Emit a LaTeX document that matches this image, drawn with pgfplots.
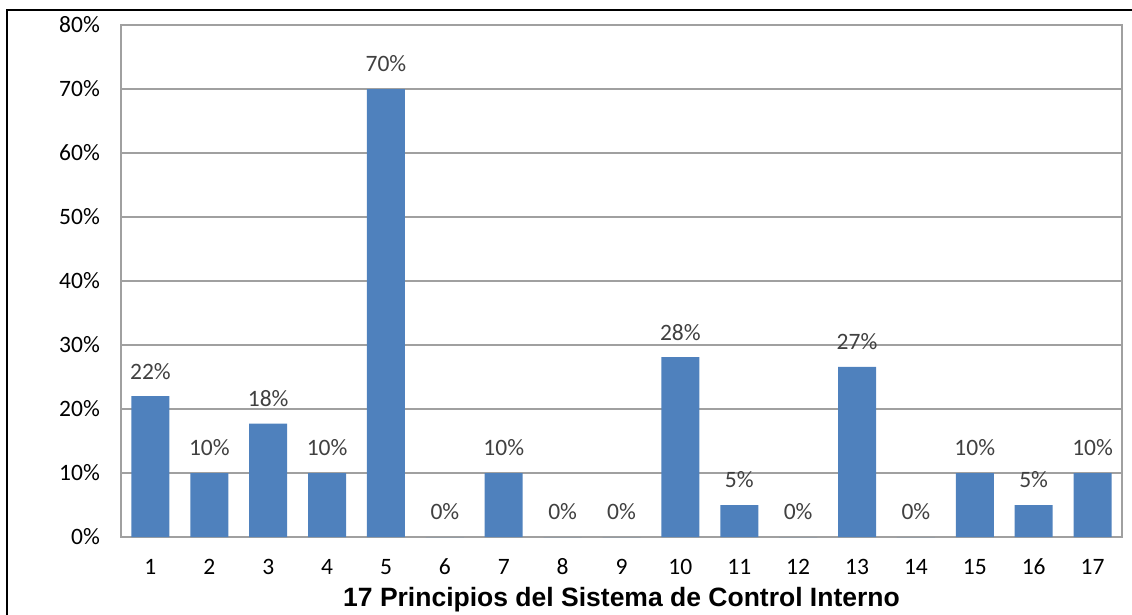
\documentclass[border=0pt]{standalone}
\usepackage{pgfplots}
\pgfplotsset{compat=1.18}
\usepackage{fontspec}
\setmainfont{Carlito}
\newfontfamily\arialfont{Liberation Sans}
\definecolor{barblue}{HTML}{4F81BD}
\definecolor{gridgray}{HTML}{A0A0A0}
\definecolor{labgray}{HTML}{404040}
\begin{document}
\begin{tikzpicture}[x=1pt,y=1pt]
\useasboundingbox (0,0) rectangle (1132,-615);
\begin{axis}[
  at={(121pt,-537pt)}, anchor=south west,
  width=1001pt, height=512pt, scale only axis,
  ybar, bar width=38pt,
  xmin=0.5, xmax=17.5, ymin=0, ymax=80,
  xtick={1,...,17},
  xticklabels={1,2,3,4,5,6,7,8,9,10,11,12,13,14,15,16,17},
  ytick={0,10,...,80},
  yticklabels={0\%,10\%,20\%,30\%,40\%,50\%,60\%,70\%,80\%},
  /pgf/number format/assume math mode=true,
  major tick length=0pt,
  ymajorgrids, grid style={gridgray, line width=1.5pt},
  axis line style={gridgray, line width=1.5pt},
  tick label style={font=\fontsize{23.5}{27}\selectfont, black},
  x tick label style={anchor=north, inner sep=0pt, text height=15pt, text depth=0pt, yshift=-22pt},
  y tick label style={anchor=east, inner sep=0pt, xshift=-21pt},
  xlabel={\arialfont\bfseries 17 Principios del Sistema de Control Interno},
  xlabel style={at={(axis description cs:0.5,0)}, anchor=center, inner sep=0pt, yshift=-63pt, font=\fontsize{26.5}{30}\selectfont},
  nodes near coords={\pgfmathprintnumber[fixed,precision=0]{\pgfplotspointmeta}\%},
  nodes near coords style={anchor=center, yshift=25pt, font=\fontsize{23.5}{27}\selectfont, text=labgray},
  point meta=y,
]
\addplot[fill=barblue, draw=none] coordinates {
(1,22) (2,10) (3,17.7) (4,10) (5,70) (6,0) (7,10) (8,0) (9,0)
(10,28.1) (11,5) (12,0) (13,26.6) (14,0) (15,10) (16,5) (17,10)};
\end{axis}
\draw[line width=2pt, black] (7,-640) -- (7,-10) -- (1160,-10);
\end{tikzpicture}
\end{document}
